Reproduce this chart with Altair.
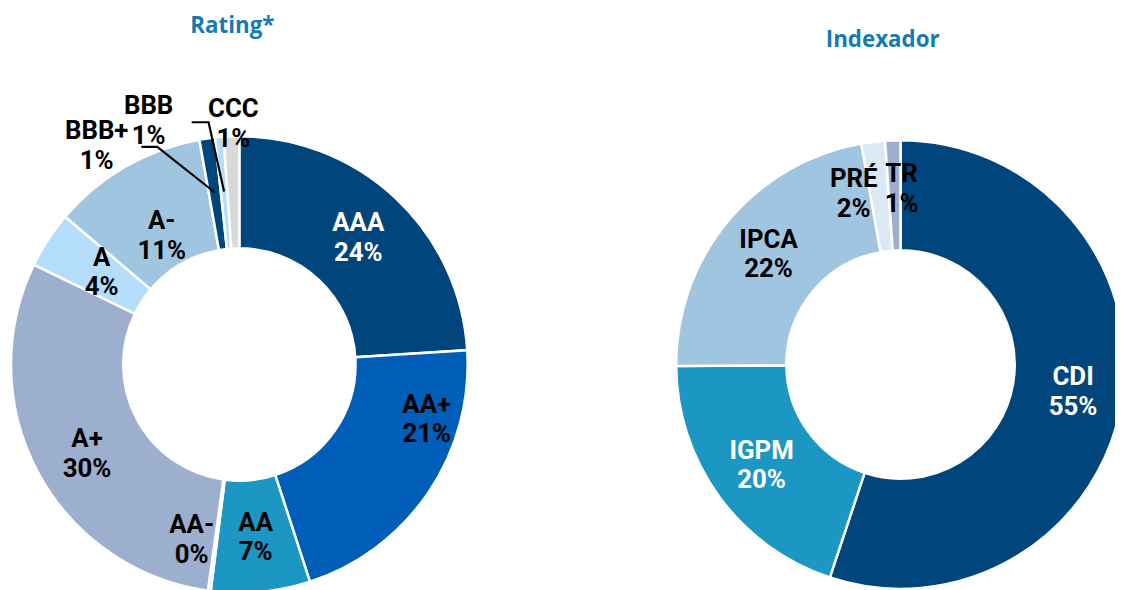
import math
import altair as alt
import pandas as pd

# ---------------- data ----------------
rating_labels = ["AAA", "AA+", "AA", "AA-", "A+", "A", "A-", "BBB+", "BBB", "CCC"]
rating_values = [24, 21, 7, 0.2, 30, 4, 11, 1.1, 0.6, 1.1]

index_labels = ["CDI", "IGPM", "IPCA", "PRÉ", "TR"]
index_values = [55.1, 19.8, 22.3, 1.7, 1.1]

# ---------------- styles ----------------
rating_colors = ["#00457C", "#005EB8", "#1C96C2", "#7FA6CF", "#9DAFCF",
                 "#B4DDFB", "#A0C5E1", "#00457C", "#B4DDFB", "#D9D9D9"]
index_colors = ["#00457C", "#1C96C2", "#A0C5E1", "#DCE8F4", "#9DAFCF"]
white_text = {"AAA", "CDI", "IGPM"}
FONT = "Liberation Sans Narrow, Arial Narrow, Roboto, sans-serif"
FS = 26
LH = 30
BASE_DY = -LH / 2
TITLE_COLOR = "#1579B4"
TITLE_FS = 22.5

W, H = 1115, 582
L_CX, L_CY, L_RO, L_RI, L_RL = 233, 357, 230, 117, 175
R_CX, R_CY, R_RO, R_RI, R_RL = 899, 357, 226, 115, 173

# label nudges (dx, dy) relative to the slice-mid anchor
label_offsets = {
    "AA+": (44, -43), "A+": (1, 8), "A": (8, 3), "A-": (9, 22),
    "AA-": (-25, 3), "BBB+": (-119, -47), "BBB": (-76, -71), "CCC": (0, -67),
    "PRÉ": (-26, 0), "TR": (7, -4), "CDI": (3, 0),
}
# leader lines: elbow offset from slice anchor, then horizontal tail
leader_style = {"BBB+": ((-58, -46), -16), "BBB": ((-15.6, -69.7), -17)}


def build(labels, values):
    df = pd.DataFrame({"label": labels, "value": values})
    df["end"] = df["value"].cumsum()
    df["start"] = df["end"] - df["value"]
    df["mid"] = (df["start"] + df["end"]) / 2
    df["text"] = [f"{l}\n{round(v)}%" for l, v in zip(labels, values)]
    return df


rating_df = build(rating_labels, rating_values)
index_df = build(index_labels, index_values)

theta_scale = alt.Scale(domain=[0, 100], range=[0, 2 * math.pi])
color_scale = alt.Scale(domain=rating_labels + index_labels,
                        range=rating_colors + index_colors)


def arcs(df, cx, cy, ro, ri):
    return alt.Chart(df).mark_arc(
        outerRadius=ro, innerRadius=ri, stroke="white", strokeWidth=2.5
    ).encode(
        theta=alt.Theta("start:Q", scale=theta_scale),
        theta2="end:Q",
        color=alt.Color("label:N", scale=color_scale, legend=None),
        x=alt.value(cx), y=alt.value(cy),
    )


def text_layer(df, names, cx, cy, r, color, dx=0, dy=0):
    sub = df[df["label"].isin(names)]
    return alt.Chart(sub).mark_text(
        radius=r, font=FONT, fontSize=FS, fontWeight="bold", lineBreak="\n",
        lineHeight=LH, align="center", baseline="middle", dx=dx,
        dy=dy + BASE_DY, color=color,
    ).encode(
        theta=alt.Theta("mid:Q", scale=theta_scale, stack=False),
        text="text:N",
        x=alt.value(cx), y=alt.value(cy),
    )


def labels_for(df, cx, cy, r):
    layers = []
    plain = [l for l in df["label"] if l not in label_offsets]
    for col in ("white", "black"):
        names = [l for l in plain if (l in white_text) == (col == "white")]
        if names:
            layers.append(text_layer(df, names, cx, cy, r, col))
    for l in df["label"]:
        if l in label_offsets:
            dx, dy = label_offsets[l]
            col = "white" if l in white_text else "black"
            layers.append(text_layer(df, [l], cx, cy, r, col, dx, dy))
    return layers


def leader_df(df, cx, cy, r):
    rows = []
    for l, (elbow, tail) in leader_style.items():
        m = float(df.loc[df["label"] == l, "mid"].iloc[0])
        ang = m / 100 * 2 * math.pi
        ax, ay = cx + r * math.sin(ang), cy - r * math.cos(ang)
        ex, ey = ax + elbow[0], ay + elbow[1]
        tx, ty = ex + tail, ey
        for i, (px, py) in enumerate([(ax, ay), (ex, ey), (tx, ty)]):
            rows.append({"seg": l, "step": i, "px": px, "py": py})
    return pd.DataFrame(rows)


leaders = alt.Chart(leader_df(rating_df, L_CX, L_CY, L_RL)).mark_line(
    color="black", strokeWidth=2.2
).encode(
    x=alt.X("px:Q", scale=None, axis=None),
    y=alt.Y("py:Q", scale=None, axis=None),
    detail="seg:N",
    order="step:Q",
)

title_l = alt.Chart(pd.DataFrame({"t": ["Rating*"]})).mark_text(
    font="Open Sans", fontSize=TITLE_FS, fontWeight="bold", color=TITLE_COLOR,
    align="center", baseline="alphabetic"
).encode(text="t:N", x=alt.value(226), y=alt.value(23))
title_r = alt.Chart(pd.DataFrame({"t": ["Indexador"]})).mark_text(
    font="Open Sans", fontSize=TITLE_FS, fontWeight="bold", color=TITLE_COLOR,
    align="center", baseline="alphabetic"
).encode(text="t:N", x=alt.value(881), y=alt.value(37))

layers = [
    arcs(rating_df, L_CX, L_CY, L_RO, L_RI),
    arcs(index_df, R_CX, R_CY, R_RO, R_RI),
    leaders,
    *labels_for(rating_df, L_CX, L_CY, L_RL),
    *labels_for(index_df, R_CX, R_CY, R_RL),
    title_l, title_r,
]

chart = alt.layer(*layers).properties(
    width=W, height=H, padding=0, autosize=alt.AutoSizeParams(type="none"),
    background="white",
).configure_view(stroke=None)

chart.save("out.html", embed_options={"renderer": "svg", "actions": False})
